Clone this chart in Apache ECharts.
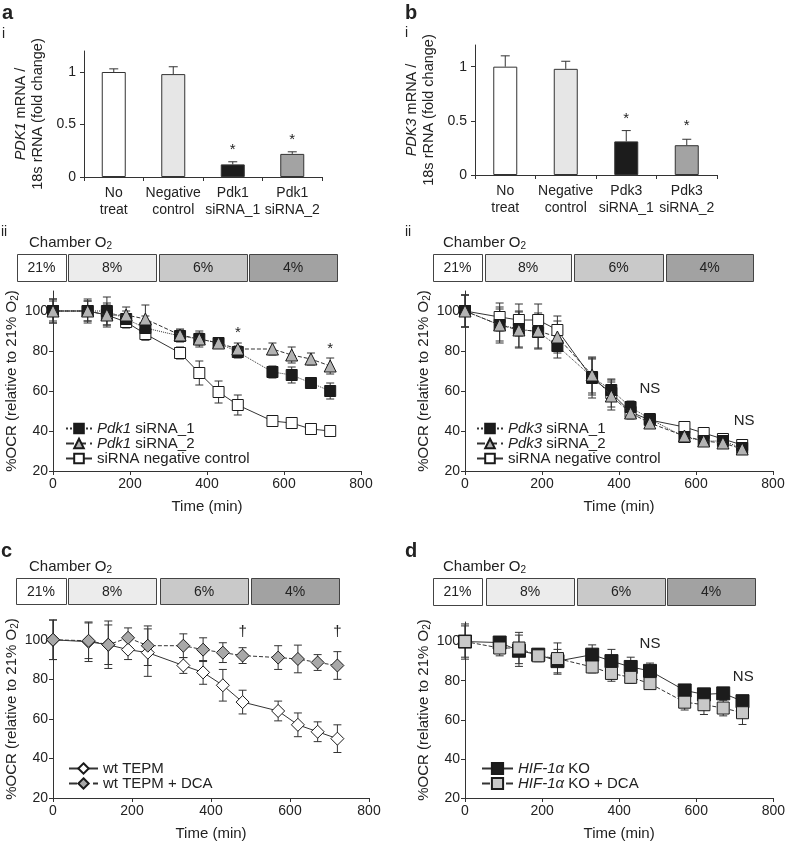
<!DOCTYPE html>
<html><head><meta charset="utf-8">
<script src="https://cdn.jsdelivr.net/npm/echarts@6/dist/echarts.min.js"></script>
<style>html,body{margin:0;padding:0;background:#fff}#c{width:788px;height:842px}</style>
</head><body><div id="c"></div>
<script>
// ---------- DATA ----------
const barCatsA = ['No\ntreat', 'Negative\ncontrol', 'Pdk1\nsiRNA_1', 'Pdk1\nsiRNA_2'];
const barValsA = [1.00, 0.98, 0.12, 0.22];
const barErrA  = [0.03, 0.07, 0.025, 0.02];
const barStarsA = [[2, 0.26], [3, 0.35]];
const barCatsB = ['No\ntreat', 'Negative\ncontrol', 'Pdk3\nsiRNA_1', 'Pdk3\nsiRNA_2'];
const barValsB = [1.00, 0.98, 0.31, 0.275];
const barErrB  = [0.10, 0.07, 0.10, 0.055];
const barStarsB = [[2, 0.52], [3, 0.45]];
const barTicks = [0, 0.5, 1];

const timeMin = [0, 90, 140, 190, 240, 330, 380, 430, 480, 570, 620, 670, 720];
const ocrTicks = [20, 40, 60, 80, 100];
const timeTicks = [0, 200, 400, 600, 800];

// panel a ii
const pdk1_1    = [100, 100, 100, 96, 91.5, 87.5, 86, 84, 79.5, 69.5, 68, 64, 60];
const pdk1_1Err = [6, 5, 7, 4, 6, 3, 3, 2, 3, 3, 4, 2, 4];
const pdk1_2    = [100, 100, 98, 98, 96, 88, 86, 84, 81, 81, 78, 76, 72.5];
const pdk1_2Err = [6, 6, 6, 4, 7, 3, 4, 2, 3, 3, 4, 3, 4];
const ctrlA     = [100, 100, 98, 94.5, 88.5, 79, 69, 59.5, 53, 45, 44, 41, 40];
const ctrlAErr  = [5, 5, 5, 3, 3, 3, 6, 5.5, 5, 2, 2, 2, 2];
const starsA = [[480, 89], [720, 81]];

// panel b ii
const pdk3_1    = [100, 93, 91, 89.5, 82.5, 67, 60.5, 52, 46, 37, 35, 35, 31.5];
const pdk3_1Err = [8, 8, 9, 8, 6, 9, 5, 3, 2, 2, 2, 2, 2];
const pdk3_2    = [100, 93, 90.5, 90, 87, 68, 57.5, 49, 44, 37.5, 35, 34, 31];
const pdk3_2Err = [8, 9, 9, 9, 8, 9, 7, 3, 2, 2, 2, 2, 2];
const ctrlB     = [100, 97, 95.5, 95.5, 90.5, 66.5, 59, 49.5, 45.5, 42, 39, 36, 33];
const ctrlBErr  = [8, 7, 8, 8, 7, 10, 7, 3, 2, 2, 2, 2, 2];
const nsB = [[480, 61], [725, 45]];

// panel c
const wt       = [100, 99, 97.5, 95, 93.5, 87, 83.5, 77, 68.5, 64, 57, 53.5, 50];
const wtErr    = [10, 10, 12, 5, 12, 4, 6, 8, 6, 5, 6, 5, 7];
const wtDca    = [100, 99.5, 97.5, 101, 97, 97, 95, 93.5, 92, 91, 90.3, 88.5, 87];
const wtDcaErr = [10, 9, 10, 5, 10, 6, 6, 5, 4, 6, 7, 4, 7];
const daggersC = [[480, 104], [720, 104]];

// panel d
const hif       = [100, 99.5, 95.3, 93.3, 90, 93.3, 90, 87, 85, 75, 73, 73.5, 69.5];
const hifErr    = [9, 3, 8, 3, 6, 5, 6, 5, 4, 3, 3, 3, 3];
const hifDca    = [100, 96.7, 96.7, 92.7, 91.3, 87, 83.7, 81.7, 78.5, 69, 67.7, 66, 63.6];
const hifDcaErr = [8, 4, 8, 3, 8, 3, 4, 3, 2, 4, 5, 4, 6];
const nsD = [[480, 99], [722, 82]];

const chamberLabels = ['21%', '8%', '6%', '4%'];
const chamberColors = ['#ffffff', '#ececec', '#c9c9c9', '#a2a2a2'];
const barColors = ['#ffffff', '#e6e6e6', '#1c1c1c', '#a3a3a3'];

// ---------- STYLE / LAYOUT ----------
const FF = '"Liberation Sans", Arial, Helvetica, sans-serif';
const TC = '#222';
const AC = '#333';

const grids = [
  {left: 84, top: 51, width: 238, height: 126},   // a i
  {left: 475, top: 45, width: 242, height: 130},  // b i
  {left: 53, top: 291, width: 308, height: 180},  // a ii
  {left: 465, top: 291, width: 308, height: 180}, // b ii
  {left: 53, top: 620, width: 316, height: 180},  // c
  {left: 465, top: 622, width: 309, height: 178}  // d
];

const chamberRows = [
  {y: 254, h: 27, xs: [[17, 66], [68, 156], [159, 247], [249, 337]], tx: 29, ty: 243},
  {y: 254, h: 27, xs: [[433, 482], [485, 571], [574, 663], [666, 753]], tx: 443, ty: 243},
  {y: 578, h: 26, xs: [[16, 66], [68, 156], [160, 248], [251, 339]], tx: 29, ty: 567},
  {y: 578, h: 27, xs: [[433, 482], [486, 574], [577, 665], [667, 755]], tx: 443, ty: 567}
];

function axisLine() { return {show: true, lineStyle: {color: AC, width: 1}}; }

function errItem(params, api) {
  const x = api.value(0), lo = api.value(1), hi = api.value(2);
  const p1 = api.coord([x, lo]), p2 = api.coord([x, hi]);
  const w = 4, st = {stroke: AC, lineWidth: 1};
  return {type: 'group', children: [
    {type: 'line', shape: {x1: p1[0], y1: p1[1], x2: p2[0], y2: p2[1]}, style: st},
    {type: 'line', shape: {x1: p1[0] - w, y1: p1[1], x2: p1[0] + w, y2: p1[1]}, style: st},
    {type: 'line', shape: {x1: p2[0] - w, y1: p2[1], x2: p2[0] + w, y2: p2[1]}, style: st}
  ]};
}
function barErrItem(params, api) {
  const x = api.value(0), lo = api.value(1), hi = api.value(2);
  const p1 = api.coord([x, lo]), p2 = api.coord([x, hi]);
  const w = 4.5, st = {stroke: AC, lineWidth: 1};
  return {type: 'group', children: [
    {type: 'line', shape: {x1: p1[0], y1: p1[1], x2: p2[0], y2: p2[1]}, style: st},
    {type: 'line', shape: {x1: p2[0] - w, y1: p2[1], x2: p2[0] + w, y2: p2[1]}, style: st}
  ]};
}

function errSeries(g, xs, vals, errs, z) {
  return {type: 'custom', xAxisIndex: g, yAxisIndex: g, renderItem: errItem, z: z || 1,
    encode: {x: 0, y: [1, 2]}, silent: true,
    data: xs.map((t, i) => [t, vals[i] - errs[i], vals[i] + errs[i]])};
}
function lineSeries(name, g, xs, vals, symbol, size, fill, lineType, z) {
  return {type: 'line', name: name, xAxisIndex: g, yAxisIndex: g, z: z,
    data: xs.map((t, i) => [t, vals[i]]),
    symbol: symbol, symbolSize: size, showSymbol: true,
    itemStyle: {color: fill, borderColor: '#1a1a1a', borderWidth: 1, opacity: 1},
    lineStyle: {color: AC, width: 1, type: lineType},
    emphasis: {disabled: true}, animation: false};
}
function annot(g, pts, text, size) {
  return {type: 'scatter', xAxisIndex: g, yAxisIndex: g, z: 10, silent: true,
    symbolSize: 1, itemStyle: {opacity: 0},
    data: pts.map(p => [p[0], p[1]]),
    label: {show: true, position: 'inside', formatter: text, color: TC,
      fontSize: size || 14, fontFamily: FF, opacity: 1}};
}

const subRich = {s: {fontSize: 10, fontFamily: FF, color: TC, verticalAlign: 'bottom', padding: [6, 0, 0, 0]}};

function lineX(g) {
  return {type: 'value', gridIndex: g, min: 0, max: 800, interval: 200,
    axisLine: axisLine(), axisTick: {show: true, length: 4, lineStyle: {color: AC}},
    axisLabel: {color: TC, fontSize: 14, fontFamily: FF, margin: 6},
    splitLine: {show: false},
    name: 'Time (min)', nameLocation: 'middle', nameGap: 28,
    nameTextStyle: {fontSize: 15, color: TC, fontFamily: FF}};
}
function lineY(g) {
  return {type: 'value', gridIndex: g, min: 20, max: 110, interval: 20,
    axisLine: axisLine(),
    axisTick: {show: true, length: 4, lineStyle: {color: AC}, customValues: ocrTicks},
    axisLabel: {color: TC, fontSize: 14, fontFamily: FF, margin: 5, customValues: ocrTicks},
    splitLine: {show: false},
    name: '%OCR (relative to 21% O{s|2})', nameLocation: 'middle', nameGap: 33,
    nameTextStyle: {fontSize: 15, color: TC, fontFamily: FF, rich: subRich}};
}
function barX(g, cats) {
  return {type: 'category', gridIndex: g, data: cats, boundaryGap: true,
    axisLine: axisLine(), axisTick: {show: true, length: 4, alignWithLabel: false, lineStyle: {color: AC}},
    axisLabel: {interval: 0, color: TC, fontSize: 14, fontFamily: FF, lineHeight: 17, margin: 8}};
}
function barY(g, gene) {
  return {type: 'value', gridIndex: g, min: 0, max: 1.2, interval: 0.5,
    axisLine: axisLine(),
    axisTick: {show: true, length: 4, lineStyle: {color: AC}, customValues: barTicks},
    axisLabel: {color: TC, fontSize: 14, fontFamily: FF, margin: 8, customValues: barTicks,
      formatter: v => String(v)},
    splitLine: {show: false},
    name: '{i|' + gene + '} mRNA /\n18s rRNA (fold change)', nameLocation: 'middle', nameGap: 38,
    nameTextStyle: {fontSize: 14.5, color: TC, fontFamily: FF, lineHeight: 17, align: 'center',
      rich: {i: {fontStyle: 'italic', fontSize: 14.5, fontFamily: FF, color: TC}}}};
}
function barSeries(g, vals) {
  return {type: 'bar', xAxisIndex: g, yAxisIndex: g, barWidth: 24, z: 2, animation: false,
    data: vals.map((v, i) => ({value: v, itemStyle: {color: barColors[i], borderColor: AC, borderWidth: 1}}))};
}
function barErrSeries(g, vals, errs) {
  return {type: 'custom', xAxisIndex: g, yAxisIndex: g, renderItem: barErrItem, z: 3, silent: true,
    encode: {x: 0, y: [1, 2]},
    data: vals.map((v, i) => [i, v, v + errs[i]])};
}

function legendFmt(name) {
  const m = name.match(/^(Pdk\d|HIF-1α)( .*)$/);
  return m ? '{i|' + m[1] + '}{n|' + m[2] + '}' : '{n|' + name + '}';
}
function legend(names, left, top, iw, ih) {
  return {data: names, left: left, top: top, orient: 'vertical', itemWidth: iw, itemHeight: ih,
    itemGap: 0, selectedMode: false, formatter: legendFmt,
    textStyle: {fontSize: 15, color: TC, fontFamily: FF,
      rich: {i: {fontStyle: 'italic', fontSize: 15, color: TC, fontFamily: FF},
             n: {fontSize: 15, color: TC, fontFamily: FF}}}};
}

// ---------- GRAPHIC (labels + chamber O2 boxes) ----------
const graphic = [];
function txt(x, y, text, size, bold, align) {
  graphic.push({type: 'text', x: x, y: y, style: {text: text, fontSize: size,
    fontWeight: bold ? 'bold' : 'normal', fill: TC, fontFamily: FF, align: align || 'left',
    verticalAlign: 'middle', rich: subRich}});
}
txt(2, 13, 'a', 20, true); txt(2, 34, 'i', 14);
txt(405, 13, 'b', 20, true); txt(405, 33, 'i', 14);
txt(1, 232, 'ii', 14); txt(405, 232, 'ii', 14);
txt(1, 551, 'c', 20, true); txt(405, 551, 'd', 20, true);
chamberRows.forEach(r => {
  txt(r.tx, r.ty, 'Chamber O{s|2}', 15);
  r.xs.forEach((xx, i) => {
    graphic.push({type: 'rect', shape: {x: xx[0] + 0.5, y: r.y + 0.5, width: xx[1] - xx[0], height: r.h},
      style: {fill: chamberColors[i], stroke: '#444', lineWidth: 1}});
    txt((xx[0] + xx[1]) / 2, r.y + r.h / 2 + 1, chamberLabels[i], 14, false, 'center');
  });
});

// ---------- OPTION ----------
const option = {
  animation: false,
  backgroundColor: '#fff',
  textStyle: {fontFamily: FF},
  grid: grids,
  xAxis: [barX(0, barCatsA), barX(1, barCatsB), lineX(2), lineX(3), lineX(4), lineX(5)],
  yAxis: [barY(0, 'PDK1'), barY(1, 'PDK3'), lineY(2), lineY(3), lineY(4), lineY(5)],
  legend: [
    legend(['Pdk1 siRNA_1', 'Pdk1 siRNA_2', 'siRNA negative control'], 60, 416, 26, 12),
    legend(['Pdk3 siRNA_1', 'Pdk3 siRNA_2', 'siRNA negative control'], 471, 416, 26, 12),
    legend(['wt TEPM', 'wt TEPM + DCA'], 63, 756, 29, 13),
    legend(['HIF-1α KO', 'HIF-1α KO + DCA'], 476, 756, 31, 14)
  ],
  graphic: graphic,
  series: [
    barSeries(0, barValsA), barErrSeries(0, barValsA, barErrA), annot(0, barStarsA, '*', 15),
    barSeries(1, barValsB), barErrSeries(1, barValsB, barErrB), annot(1, barStarsB, '*', 15),

    errSeries(2, timeMin, ctrlA, ctrlAErr), errSeries(2, timeMin, pdk1_1, pdk1_1Err), errSeries(2, timeMin, pdk1_2, pdk1_2Err),
    lineSeries('siRNA negative control', 2, timeMin, ctrlA, 'rect', 11, '#ffffff', 'solid', 3),
    lineSeries('Pdk1 siRNA_1', 2, timeMin, pdk1_1, 'rect', 11, '#1c1c1c', 'dotted', 4),
    lineSeries('Pdk1 siRNA_2', 2, timeMin, pdk1_2, 'triangle', 12, '#b3b3b3', 'dashed', 5),
    annot(2, starsA, '*', 15),

    errSeries(3, timeMin, ctrlB, ctrlBErr), errSeries(3, timeMin, pdk3_1, pdk3_1Err), errSeries(3, timeMin, pdk3_2, pdk3_2Err),
    lineSeries('siRNA negative control', 3, timeMin, ctrlB, 'rect', 11, '#ffffff', 'solid', 3),
    lineSeries('Pdk3 siRNA_1', 3, timeMin, pdk3_1, 'rect', 11, '#1c1c1c', 'dotted', 4),
    lineSeries('Pdk3 siRNA_2', 3, timeMin, pdk3_2, 'triangle', 12, '#b3b3b3', 'dashed', 5),
    annot(3, nsB, 'NS', 15),

    errSeries(4, timeMin, wt, wtErr), errSeries(4, timeMin, wtDca, wtDcaErr),
    lineSeries('wt TEPM', 4, timeMin, wt, 'diamond', 13, '#ffffff', 'solid', 3),
    lineSeries('wt TEPM + DCA', 4, timeMin, wtDca, 'diamond', 13, '#a8a8a8', 'dashed', 4),
    annot(4, daggersC, '†', 15),

    errSeries(5, timeMin, hifDca, hifDcaErr), errSeries(5, timeMin, hif, hifErr),
    lineSeries('HIF-1α KO', 5, timeMin, hif, 'rect', 13, '#1c1c1c', 'solid', 3),
    lineSeries('HIF-1α KO + DCA', 5, timeMin, hifDca, 'rect', 12, '#c8c8c8', 'dashed', 4),
    annot(5, nsD, 'NS', 15)
  ]
};

const chart = echarts.init(document.getElementById('c'), null, {renderer: 'canvas'});
chart.setOption(option);
</script></body></html>
